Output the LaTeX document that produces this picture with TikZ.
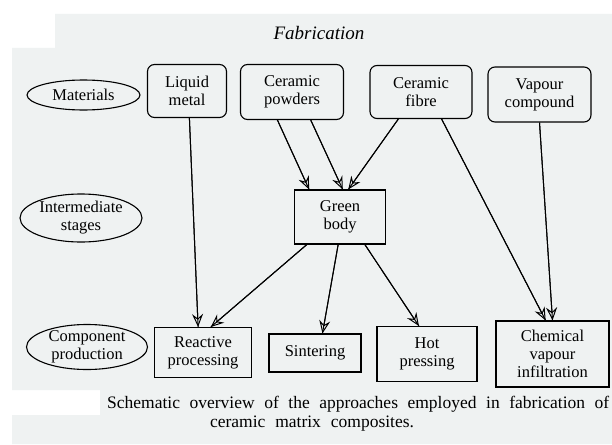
\documentclass[tikz,border=0pt]{standalone}
\usepackage{fontspec}
\setmainfont{Liberation Serif}
\usetikzlibrary{arrows.meta,shapes.geometric,calc}
\definecolor{paper}{RGB}{239,242,242}
\begin{document}
\begin{tikzpicture}[x=1pt,y=-1pt,
  txt/.style={font=\fontsize{16.5}{18}\selectfont},
  box/.style={draw, line width=1.1pt, align=center, inner sep=0pt, txt},
  rbox/.style={box, rounded corners=7pt},
  oval/.style={draw, ellipse, line width=1.1pt, align=center, inner sep=-3pt, txt},
  arr/.style={line width=1pt,
    postaction={draw, -{Stealth[open, length=13pt, width=11pt, inset=4.5pt, line width=1pt]}}}]
\useasboundingbox (0,0) rectangle (612,444);
\fill[white] (0,0) rectangle (612,444);
\fill[paper] (55,14) -- (612,14) -- (612,444) -- (12,444) -- (12,415) -- (100,415)
  -- (100,390) -- (12,390) -- (12,48) -- (55,48) -- cycle;

\node[font=\fontsize{19}{22}\selectfont\itshape] (title) at (319,33) {Fabrication};

% row labels
\node[oval, minimum width=113pt, minimum height=30pt] (mat) at (83.5,95) {Materials};
\node[oval, minimum width=122pt, minimum height=48pt] (inter) at (81,218) {Intermediate\\stages};
\node[oval, minimum width=121pt, minimum height=45pt] (comp) at (87,347) {Component\\production};

% materials
\node[rbox, minimum width=79pt, minimum height=53pt] (lm) at (187,91) {Liquid\\metal};
\node[rbox, minimum width=103pt, minimum height=55pt] (cp) at (292,92) {Ceramic\\powders};
\node[rbox, minimum width=102pt, minimum height=53pt] (cf) at (421,92) {Ceramic\\fibre};
\node[rbox, minimum width=103pt, minimum height=55pt] (vc) at (539.5,94.5) {Vapour\\compound};

% intermediate
\node[box, minimum width=91pt, minimum height=54pt] (gb) at (340,217) {Green\\body};

% component production
\node[box, minimum width=97pt, minimum height=50pt] (rp) at (203,352.5) {Reactive\\processing};
\node[box, minimum width=92pt, minimum height=38pt] (si) at (315,353) {Sintering};
\node[box, minimum width=100pt, minimum height=55pt] (hp) at (427,354) {Hot\\pressing};
\node[box, minimum width=113pt, minimum height=66pt] (cvi) at (552.5,354) {Chemical\\vapour\\infiltration};

% arrows
\draw[arr] ($(lm.south west)!0.53!(lm.south east)$) -- ($(rp.north west)!0.45!(rp.north east)$);
\draw[arr] ($(cp.south west)!0.36!(cp.south east)$) -- ($(gb.north west)!0.165!(gb.north east)$);
\draw[arr] ($(cp.south west)!0.68!(cp.south east)$) -- ($(gb.north west)!0.53!(gb.north east)$);
\draw[arr] ($(cf.south west)!0.28!(cf.south east)$) -- ($(gb.north west)!0.59!(gb.north east)$);
\draw[arr] ($(cf.south west)!0.70!(cf.south east)$) -- ($(cvi.north west)!0.44!(cvi.north east)$);
\draw[arr] ($(vc.south west)!0.50!(vc.south east)$) -- ($(cvi.north west)!0.50!(cvi.north east)$);
\draw[arr] ($(gb.south west)!0.14!(gb.south east)$) -- ($(rp.north west)!0.58!(rp.north east)$);
\draw[arr] ($(gb.south west)!0.48!(gb.south east)$) -- ($(si.north west)!0.58!(si.north east)$);
\draw[arr] ($(gb.south west)!0.77!(gb.south east)$) -- ($(hp.north west)!0.42!(hp.north east)$);

% caption
\node[font=\fontsize{17.5}{20}\selectfont, anchor=base west, inner sep=0pt] (cap1) at (107,408)
  {\makebox[502pt][s]{Schematic overview of the approaches employed in fabrication of}};
\node[font=\fontsize{17.5}{20}\selectfont, anchor=base, inner sep=0pt] (cap2) at (312,427)
  {\makebox[204pt][s]{ceramic matrix composites.}};
\end{tikzpicture}
\end{document}
